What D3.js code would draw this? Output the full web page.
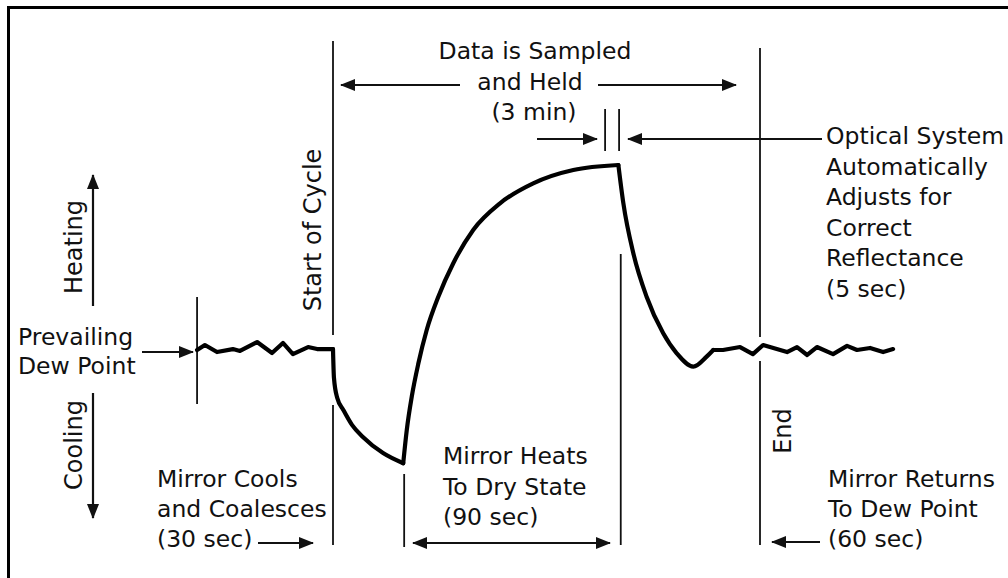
<!DOCTYPE html>
<html><head><meta charset="utf-8">
<script src="https://cdn.jsdelivr.net/npm/d3@7"></script>
<style>html,body{margin:0;padding:0;background:#fff;} svg{display:block;}</style>
</head><body><div id="chart"></div>
<script>
// ---------- DATA (time in seconds from start of cycle, temperature in relative units; 0 = dew point) ----------
const prevailingT = [-57.3, -54, -48.9, -42.2, -39.2, -32, -25.7, -21.1, -16.9, -10.5, -6.7, 0];
const prevailingV = [0, 0.27, -0.11, 0.05, -0.05, 0.43, -0.16, 0.38, -0.22, 0.16, 0.05, 0.05];
const coolingT = [0, 0.4, 1.8, 4.35, 8, 12.6, 21.1, 29.6];
const coolingV = [0.05, -1.5, -2.6, -3.24, -4.05, -4.7, -5.57, -6.12];
const heatingT = [29.6, 31.1, 33.2, 36.0, 39.5, 44.4, 50.7, 59.1, 70.4, 84.4, 101.3, 120.3];
const heatingV = [-6.12, -4.32, -2.52, -0.72, 1.08, 2.88, 4.69, 6.49, 7.93, 9.01, 9.73, 10];
const returnT = [120.3, 122.4, 126.6, 132.2, 139.2, 144.9, 151.9, 157.5, 160.3];
const returnV = [10, 7.93, 5.23, 2.88, 0.9, -0.18, -0.9, -0.36, 0];
const settledT = [160.3, 164.4, 171.6, 177, 181.3, 191.4, 195.6, 199.9, 204, 210.8, 216.7, 220.9, 226.4, 231.9, 236.1];
const settledV = [0, 0, 0.16, -0.22, 0.27, -0.11, 0.16, -0.27, 0.16, -0.22, 0.22, 0, 0.11, -0.11, 0.05];

// event markers (seconds)
const markerNames = ["prevailing", "start", "cooled", "heated", "end", "opticalA", "opticalB"];
const markerTimes = [-57.3, 0, 30, 121.3, 180, 114.7, 120.6];

// labels
const labelSampled = ["Data is Sampled", "and Held", "(3 min)"];
const labelOptical = ["Optical System", "Automatically", "Adjusts for", "Correct", "Reflectance", "(5 sec)"];
const labelPrevailing = ["Prevailing", "Dew Point"];
const labelCools = ["Mirror Cools", "and Coalesces", "(30 sec)"];
const labelHeats = ["Mirror Heats", "To Dry State", "(90 sec)"];
const labelReturns = ["Mirror Returns", "To Dew Point", "(60 sec)"];
const labelAxis = ["Heating", "Cooling"];
const labelStart = "Start of Cycle";
const labelEnd = "End";

// ---------- CHART ----------
const W = 1008, H = 578;
const FONT = "'DejaVu Sans', 'Open Sans', sans-serif";
const FS = 23.5;
const FSV = 24;
const INK = "#111";

const svg = d3.select('#chart').append('svg').attr('width', W).attr('height', H)
  .style('background', '#fff');

const x = d3.scaleLinear().domain([0, 180]).range([333, 760]);
const y = d3.scaleLinear().domain([-6, 10]).range([461, 165]);

// arrow marker
const defs = svg.append('defs');
defs.append('marker').attr('id', 'ah')
  .attr('viewBox', '0 0 15 12').attr('refX', 14).attr('refY', 6)
  .attr('markerWidth', 15).attr('markerHeight', 12)
  .attr('markerUnits', 'userSpaceOnUse').attr('orient', 'auto-start-reverse')
  .append('path').attr('d', 'M0,0 L15,6 L0,12 Z').attr('fill', INK);

// frame
svg.append('rect').attr('x', 8.5).attr('y', 7.5).attr('width', 1010).attr('height', 600)
  .attr('fill', 'none').attr('stroke', '#000').attr('stroke-width', 3);

// vertical marker lines
const mk = Object.fromEntries(markerNames.map((n, i) => [n, markerTimes[i]]));
const vlines = [
  [mk.prevailing, 297, 404],
  [mk.start, 41, 335], [mk.start, 405, 545],
  [mk.cooled, 474, 547],
  [mk.heated, 254, 545],
  [mk.end, 48, 337], [mk.end, 361, 545],
  [mk.opticalA, 109, 151], [mk.opticalB, 109, 151]
];
svg.append('g').selectAll('line').data(vlines).join('line')
  .attr('x1', d => x(d[0])).attr('x2', d => x(d[0]))
  .attr('y1', d => d[1]).attr('y2', d => d[2])
  .attr('stroke', INK).attr('stroke-width', 1.8);

// curve
const zip = (T, V) => T.map((t, i) => [t, V[i]]);
const lineLin = d3.line().x(d => x(d[0])).y(d => y(d[1])).curve(d3.curveLinear);
const lineSm = d3.line().x(d => x(d[0])).y(d => y(d[1])).curve(d3.curveMonotoneX);
const curveG = svg.append('g').attr('fill', 'none').attr('stroke', '#000')
  .attr('stroke-width', 4.2).attr('stroke-linejoin', 'round').attr('stroke-linecap', 'round');
curveG.append('path').attr('d', lineLin(zip(prevailingT, prevailingV)));
curveG.append('path').attr('d', lineSm(zip(coolingT, coolingV)));
curveG.append('path').attr('d', lineSm(zip(heatingT, heatingV)));
curveG.append('path').attr('d', lineSm(zip(returnT, returnV)));
curveG.append('path').attr('d', lineLin(zip(settledT, settledV)));

// arrows: [x1,y1,x2,y2,double]
const arrows = [
  [93, 306, 93, 175, false],          // heating
  [93, 393, 93, 518, false],          // cooling
  [142, 352, 193, 352, false],        // prevailing
  [460, 85, 341, 85, false],          // sampled left
  [598, 85, 736, 85, false],          // sampled right
  [537, 139, 597, 139, false],        // optical right
  [822, 139, 628, 139, false],        // optical left
  [258, 543, 313, 543, false],        // 30 sec
  [413, 543, 610, 543, true],         // 90 sec
  [820, 542, 772, 542, false]         // 60 sec
];
svg.append('g').selectAll('line').data(arrows).join('line')
  .attr('x1', d => d[0]).attr('y1', d => d[1]).attr('x2', d => d[2]).attr('y2', d => d[3])
  .attr('stroke', INK).attr('stroke-width', 2.2)
  .attr('marker-end', 'url(#ah)')
  .attr('marker-start', d => d[4] ? 'url(#ah)' : null);

// text helper
function block(lines, x0, y0, dy, anchor) {
  const t = svg.append('text').attr('font-family', FONT).attr('font-size', FS)
    .attr('fill', INK).attr('text-anchor', anchor || 'start');
  lines.forEach((s, i) => {
    const yy = Array.isArray(y0) ? y0[i] : y0 + i * dy;
    const xx = Array.isArray(x0) ? x0[i] : x0;
    t.append('tspan').attr('x', xx).attr('y', yy).text(s);
  });
  return t;
}
block(labelSampled, [535, 530, 534], [59, 90, 120], 0, 'middle');
block(labelOptical, 826, 144, 30.6);
block(labelPrevailing, 18, 345, 29);
block(labelCools, 157, 487, 30);
block(labelHeats, 443, 464, 30.5);
block(labelReturns, 828, 487, 30);

function vtext(s, bx, cy) {
  svg.append('text').attr('font-family', FONT).attr('font-size', FSV).attr('fill', INK)
    .attr('text-anchor', 'middle')
    .attr('transform', `translate(${bx},${cy}) rotate(-90)`).text(s);
}
vtext(labelAxis[0], 82, 247);
vtext(labelAxis[1], 82, 445);
vtext(labelStart, 321, 230);
vtext(labelEnd, 791, 431);
</script>
</body></html>
